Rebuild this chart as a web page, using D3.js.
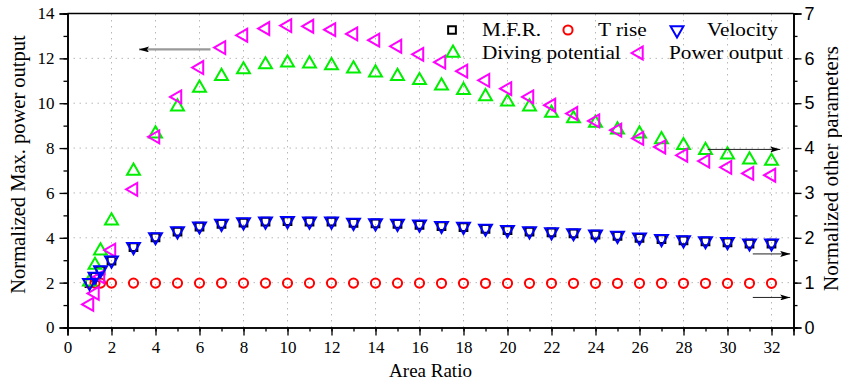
<!DOCTYPE html>
<html lang="en">
<head>
<meta charset="UTF-8">
<title>Area Ratio</title>
<style>
  body { margin: 0; background: #fff; }
</style>
</head>
<body>
<script src="https://d3js.org/d3.v7.min.js"></script>
<script>
// data
var areaRatio = [1, 1.25, 1.5, 2, 3, 4, 5, 6, 7, 8, 9, 10, 11, 12, 13, 14, 15, 16, 17,
  18, 19, 20, 21, 22, 23, 24, 25, 26, 27, 28, 29, 30, 31, 32];
// left axis
var powerOutput = [1.03, 1.52, 2.26, 3.45, 6.16, 8.50, 10.28, 11.59, 12.48, 13.03, 13.33, 13.46,
  13.43, 13.28, 13.09, 12.81, 12.54, 12.18, 11.83, 11.43, 11.02, 10.65, 10.28, 9.91, 9.54,
  9.21, 8.80, 8.43, 8.05, 7.68, 7.42, 7.14, 6.87, 6.79];
// right axis
var divingPotential = [1.02, 1.39, 1.71, 2.38, 3.49, 4.32, 4.92, 5.34, 5.60, 5.75, 5.86, 5.90,
  5.88, 5.84, 5.77, 5.68, 5.60, 5.51, 5.39, 5.29, 5.15, 5.03, 4.92, 4.78, 4.66, 4.56, 4.41,
  4.32, 4.19, 4.06, 3.95, 3.85, 3.74, 3.71];
var velocity = [1.00, 1.14, 1.28, 1.50, 1.80, 2.02, 2.15, 2.26, 2.32, 2.35, 2.37, 2.38, 2.37,
  2.37, 2.34, 2.33, 2.32, 2.30, 2.27, 2.25, 2.21, 2.18, 2.15, 2.13, 2.11, 2.08, 2.05, 2.01,
  1.98, 1.95, 1.93, 1.91, 1.88, 1.88];
var mfr = [0.99, 1.13, 1.27, 1.49, 1.79, 2.01, 2.14, 2.25, 2.31, 2.34, 2.36, 2.37, 2.36,
  2.36, 2.33, 2.32, 2.31, 2.29, 2.26, 2.24, 2.20, 2.17, 2.14, 2.12, 2.10, 2.07, 2.04, 2.00,
  1.97, 1.94, 1.92, 1.90, 1.87, 1.87];
var tRise = [0.99, 0.99, 0.99, 0.99, 0.99, 0.99, 0.99, 0.99, 0.99, 0.99, 0.99, 0.99, 0.99,
  0.99, 0.99, 0.99, 0.99, 0.99, 0.985, 0.985, 0.985, 0.985, 0.985, 0.985, 0.985, 0.985,
  0.985, 0.985, 0.985, 0.985, 0.985, 0.985, 0.985, 0.985];

var xTicks = [0, 2, 4, 6, 8, 10, 12, 14, 16, 18, 20, 22, 24, 26, 28, 30, 32];
var leftTicks = [0, 2, 4, 6, 8, 10, 12, 14];
var rightTicks = [0, 1, 2, 3, 4, 5, 6, 7];

var SERIF = "'Liberation Serif', 'Times New Roman', serif";
var SANS = "'Liberation Sans', Arial, sans-serif";

var W = 842, H = 383;
var svg = d3.select("body").append("svg").attr("width", W).attr("height", H);

var x = d3.scaleLinear().domain([0, 33]).range([67.5, 793.5]);
var yL = d3.scaleLinear().domain([0, 14]).range([327.5, 13.5]);
var yR = d3.scaleLinear().domain([0, 7]).range([327.5, 13.5]);

// grid
var grid = svg.append("g").attr("stroke", "#b8b8b8").attr("stroke-width", 1)
  .attr("stroke-dasharray", "1.5,4.5");
grid.selectAll(".gx").data(xTicks.filter(function(d){ return d > 0; })).enter().append("line")
  .attr("x1", function(d){ return x(d); }).attr("x2", function(d){ return x(d); })
  .attr("y1", yL(0)).attr("y2", yL(14));
grid.selectAll(".gy").data([2, 4, 6, 8, 10, 12]).enter().append("line")
  .attr("x1", x(0)).attr("x2", x(33))
  .attr("y1", function(d){ return yL(d); }).attr("y2", function(d){ return yL(d); });

// axes
svg.append("g").attr("transform", "translate(0," + yL(0) + ")")
  .call(d3.axisBottom(x).tickValues(d3.range(0, 33, 1)).tickSize(4).tickFormat(""));
svg.append("g").attr("transform", "translate(0," + yL(0) + ")")
  .call(d3.axisBottom(x).tickValues(xTicks).tickSize(8).tickPadding(5).tickFormat(d3.format("d")))
  .attr("font-family", SERIF).attr("font-size", 17);

svg.append("g").attr("transform", "translate(" + x(0) + ",0)")
  .call(d3.axisLeft(yL).tickValues(d3.range(0, 15, 1)).tickSize(4).tickFormat(""));
svg.append("g").attr("transform", "translate(" + x(0) + ",0)")
  .call(d3.axisLeft(yL).tickValues(leftTicks).tickSize(8).tickPadding(5).tickFormat(d3.format("d")))
  .attr("font-family", SERIF).attr("font-size", 17);

svg.append("g").attr("transform", "translate(" + x(33) + ",0)")
  .call(d3.axisRight(yR).tickValues(d3.range(0, 7.5, 0.5)).tickSize(4).tickFormat(""));
svg.append("g").attr("transform", "translate(" + x(33) + ",0)")
  .call(d3.axisRight(yR).tickValues(rightTicks).tickSize(8).tickPadding(3).tickFormat(d3.format("d")))
  .attr("font-family", SANS).attr("font-size", 18);

svg.selectAll(".domain").attr("stroke", "#000").attr("stroke-width", 1.6);
svg.selectAll(".tick line").attr("stroke", "#000").attr("stroke-width", 1.3);
svg.selectAll(".tick text").attr("fill", "#000");

// top frame
svg.append("line").attr("x1", x(0)).attr("x2", x(33)).attr("y1", yL(14)).attr("y2", yL(14))
  .attr("stroke", "#000").attr("stroke-width", 1.6);

// markers
function sym(type, size) { return d3.symbol().type(type).size(size)(); }
var series = [
  { name: "M.F.R.", vals: mfr, y: yR, type: d3.symbolSquare, size: 60, rot: 0, color: "#000" },
  { name: "T rise", vals: tRise, y: yR, type: d3.symbolCircle, size: 66, rot: 0, color: "#ff0000" },
  { name: "Diving potential", vals: divingPotential, y: yR, type: d3.symbolTriangle, size: 72, rot: 0, color: "#00ee00" },
  { name: "Power output", vals: powerOutput, y: yL, type: d3.symbolTriangle, size: 72, rot: -90, color: "#ff00ff" },
  { name: "Velocity", vals: velocity, y: yR, type: d3.symbolTriangle, size: 72, rot: 180, color: "#0000ff" }
];

series.forEach(function(s) {
  svg.append("g").selectAll("path").data(areaRatio).enter().append("path")
    .attr("d", sym(s.type, s.size))
    .attr("transform", function(d, i) {
      return "translate(" + x(d) + "," + s.y(s.vals[i]) + ") rotate(" + s.rot + ")";
    })
    .attr("fill", "none").attr("stroke", s.color).attr("stroke-width", 2);
});

// legend
var legend = [
  { s: series[0], sx: 452, sy: 30, tx: 482, ty: 36 },
  { s: series[1], sx: 568, sy: 30, tx: 598, ty: 36 },
  { s: series[4], sx: 677, sy: 30, tx: 707, ty: 36 },
  { s: series[2], sx: 453, sy: 53, tx: 482, ty: 59 },
  { s: series[3], sx: 639, sy: 53, tx: 669, ty: 59 }
];
legend.forEach(function(l) {
  svg.append("path").attr("d", sym(l.s.type, l.s.size))
    .attr("transform", "translate(" + l.sx + "," + l.sy + ") rotate(" + l.s.rot + ")")
    .attr("fill", "none").attr("stroke", l.s.color).attr("stroke-width", 2);
  svg.append("text").attr("transform", "translate(" + l.tx + "," + l.ty + ") scale(1.12,1)")
    .attr("font-family", SERIF).attr("font-size", 19)
    .attr("fill", "#000").text(l.s.name);
});

// arrows
var defs = svg.append("defs");
defs.append("marker").attr("id", "ah").attr("viewBox", "0 0 10 6").attr("refX", 10).attr("refY", 3)
  .attr("markerWidth", 10).attr("markerHeight", 6).attr("markerUnits", "userSpaceOnUse")
  .attr("orient", "auto")
  .append("path").attr("d", "M0,0 L10,3 L0,6 L2,3 Z").attr("fill", "#000");
var arrows = [
  { x1: 6.5, x2: 3.25, y: yL(12.4), c: "#999", w: 2.2 },
  { x1: 29.1, x2: 32.4, y: yR(3.97), c: "#222", w: 1 },
  { x1: 31.15, x2: 32.85, y: yR(1.64), c: "#222", w: 1 },
  { x1: 31.15, x2: 32.85, y: yR(0.67), c: "#222", w: 1 }
];
arrows.forEach(function(a) {
  svg.append("line").attr("x1", x(a.x1)).attr("x2", x(a.x2)).attr("y1", a.y).attr("y2", a.y)
    .attr("stroke", a.c).attr("stroke-width", a.w).attr("marker-end", "url(#ah)");
});

// axis titles
svg.append("text").attr("x", x(16.5)).attr("y", 377).attr("text-anchor", "middle")
  .attr("font-family", SERIF).attr("font-size", 19).text("Area Ratio");
svg.append("text").attr("transform", "translate(25," + (yL(7) - 6) + ") rotate(-90)")
  .attr("text-anchor", "middle").attr("font-family", SERIF).attr("font-size", 20.5)
  .text("Normalized Max. power output");
svg.append("text").attr("transform", "translate(838," + (yL(7) - 2) + ") rotate(-90)")
  .attr("text-anchor", "middle").attr("font-family", SERIF).attr("font-size", 21)
  .text("Normalized other parameters");
</script>
</body>
</html>
